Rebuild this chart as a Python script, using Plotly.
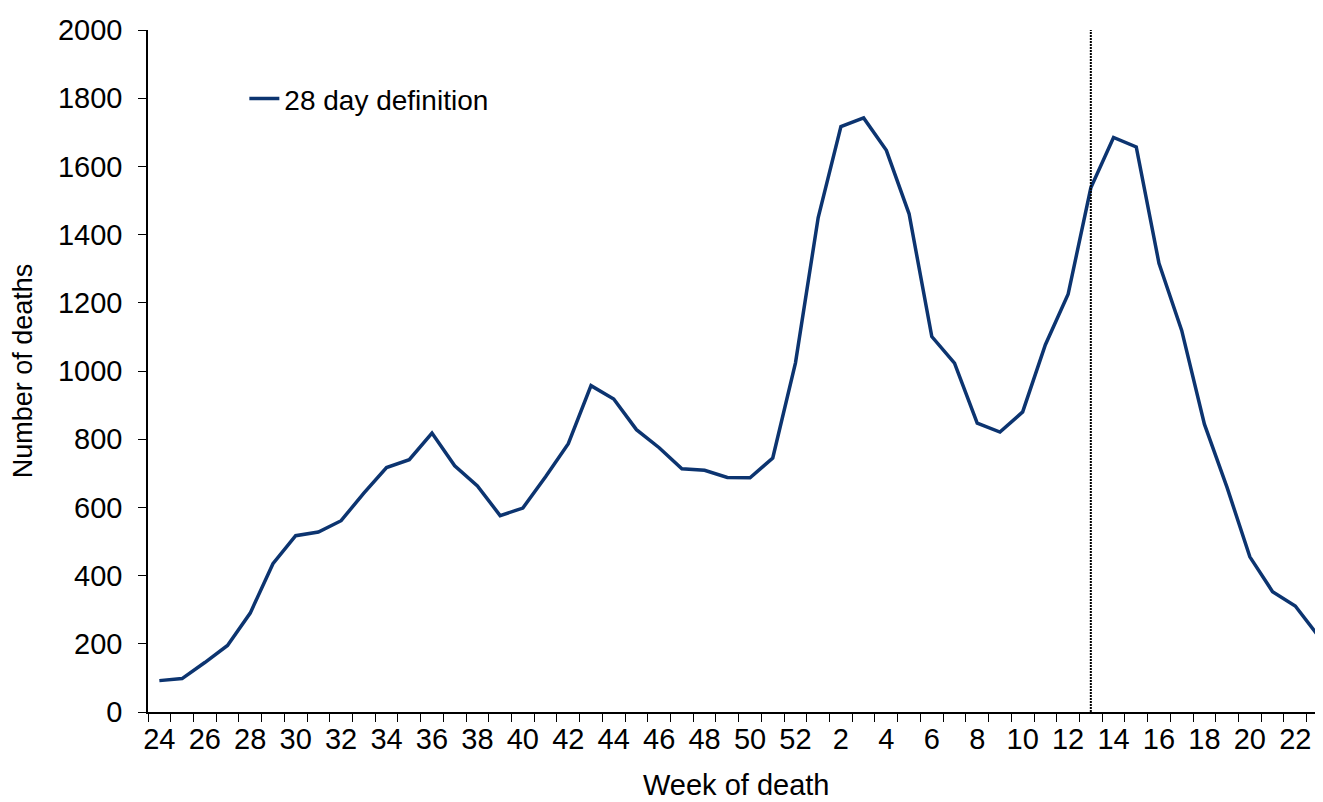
import plotly.graph_objects as go

# week of death, week 24 of one year through week 23 of the next
weeks = [str(w) for w in list(range(24, 53)) + list(range(1, 24))]
deaths = [92, 98, 145, 195, 290, 435, 517, 528, 561, 642, 717, 740, 818, 722,
          663, 576, 598, 690, 787, 957, 918, 828, 775, 713, 709, 688, 687, 745,
          1024, 1450, 1717, 1742, 1647, 1461, 1101, 1023, 847, 821, 880, 1077,
          1225, 1537, 1685, 1657, 1316, 1119, 844, 658, 455, 353, 311, 224]
marker_week = "13"
y_ticks = list(range(0, 2001, 200))

# only every second week gets a label
tick_text = [w if i % 2 == 0 else "" for i, w in enumerate(weeks)]
marker_pos = weeks.index(marker_week)

font = "Liberation Sans, Arial, sans-serif"

fig = go.Figure()
fig.add_trace(go.Scatter(
    x=weeks, y=deaths, mode="lines", name="28 day definition",
    line=dict(color="#0C3470", width=3.5),
))

# vertical dotted marker at week 13
fig.add_shape(type="line", xref="x", yref="y",
              x0=marker_pos, x1=marker_pos, y0=0, y1=2000,
              line=dict(color="black", width=2, dash="2px,1px"))

# x title as an annotation: the axis title gets squeezed by the bottom margin
fig.add_annotation(text="Week of death", xref="paper", yref="paper",
                   x=0.5, y=0, xanchor="center", yanchor="middle", yshift=-73,
                   showarrow=False, font=dict(size=29))

# page body adds an 8px offset, so the figure is a bit smaller than the window
fig.update_layout(
    width=1315, height=794,
    margin=dict(l=140, r=0, t=22, b=90),
    plot_bgcolor="white", paper_bgcolor="white",
    font=dict(family=font, size=29, color="black"),
    showlegend=True,
    legend=dict(x=0.082, y=0.899, xanchor="left", yanchor="middle",
                bgcolor="rgba(0,0,0,0)", font=dict(size=28)),
)

fig.update_xaxes(
    type="category", range=[-0.5, 51.22], automargin=False,
    tickmode="array", tickvals=weeks, ticktext=tick_text, tickangle=0,
    tickson="boundaries", ticks="outside", ticklen=8, tickcolor="black",
    showline=True, linecolor="black", linewidth=1.5,
    showgrid=False, zeroline=False,
)

fig.update_yaxes(
    range=[0, 2000], tickvals=y_ticks, automargin=False,
    ticks="outside", ticklen=8, tickcolor="black", ticklabelstandoff=10,
    showline=True, linecolor="black", linewidth=1.5,
    showgrid=False, zeroline=False,
    title=dict(text="Number of deaths", font=dict(size=27), standoff=18),
)

fig.write_html("out.html")
